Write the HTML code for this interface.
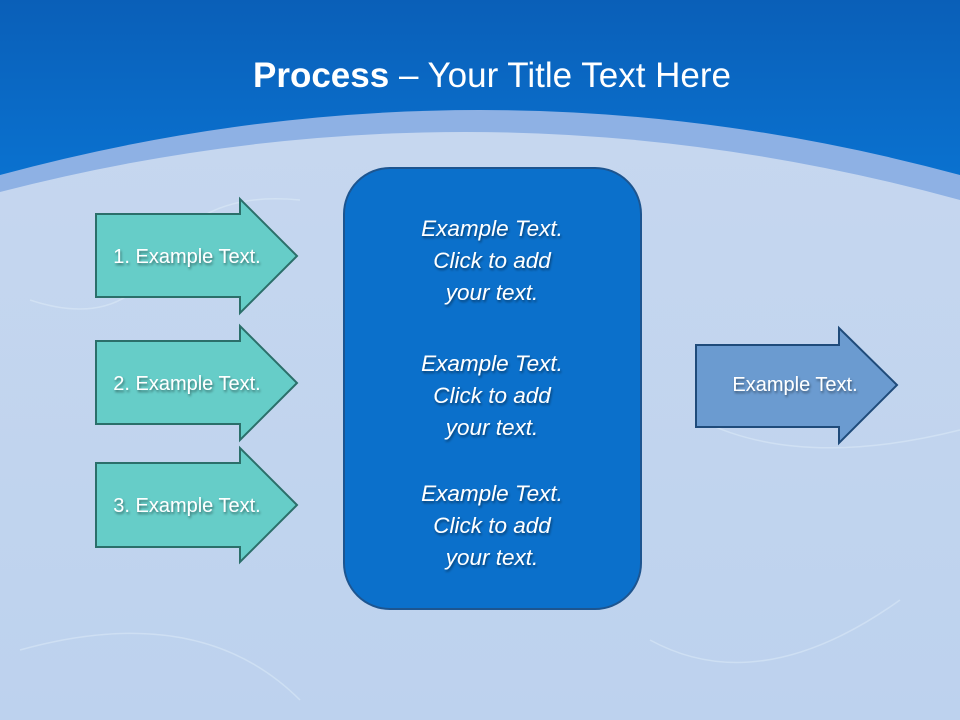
<!DOCTYPE html>
<html><head><meta charset="utf-8"><style>
html,body{margin:0;padding:0}
body{width:960px;height:720px;overflow:hidden;position:relative;font-family:"Liberation Sans",sans-serif}
svg{position:absolute;left:0;top:0}
</style></head><body>
<svg width="960" height="720" viewBox="0 0 960 720" xmlns="http://www.w3.org/2000/svg">
<defs>
<linearGradient id="top" x1="0" y1="0" x2="0" y2="1">
<stop offset="0" stop-color="#0a5fb8"/><stop offset="0.25" stop-color="#0a72d0"/><stop offset="1" stop-color="#0a7ad8"/>
</linearGradient>
<linearGradient id="low" x1="0" y1="0" x2="0" y2="1">
<stop offset="0" stop-color="#c6d7ef"/><stop offset="1" stop-color="#bdd2ee"/>
</linearGradient>
<filter id="sh"><feDropShadow dx="1" dy="2" stdDeviation="1.2" flood-color="#000" flood-opacity="0.45"/></filter>
</defs>
<rect width="960" height="720" fill="url(#top)"/>
<path d="M0,175 Q480,45 960,175 L960,720 L0,720Z" fill="#8eb1e4"/>
<path d="M0,192 Q480,68 960,200 L960,720 L0,720Z" fill="url(#low)"/>
<g fill="none" stroke="#e6f2fb" stroke-opacity="0.4" stroke-width="1.5">
<path d="M30,300 Q120,330 160,260 T300,200"/>
<path d="M20,650 Q200,600 300,700"/>
<path d="M700,420 Q800,470 960,430"/>
<path d="M650,640 Q760,700 900,600"/>
</g>
<text x="492" y="87" text-anchor="middle" font-size="35" fill="#fff" font-family="Liberation Sans, sans-serif"><tspan font-weight="bold">Process</tspan> – Your Title Text Here</text>
<g stroke="#2b6f6a" stroke-width="2" fill="#66cdc8">
<path d="M96,214 H240 V199 L297,256 L240,313 V297 H96Z"/>
<path d="M96,341 H240 V326 L297,383 L240,440 V424 H96Z"/>
<path d="M96,463 H240 V448 L297,505 L240,562 V547 H96Z"/>
</g>
<path d="M696,345 H839 V328 L897,385 L839,443 V427 H696Z" fill="#6b9bd0" stroke="#1f4b7a" stroke-width="2"/>
<rect x="344" y="168" width="297" height="441" rx="46" fill="#0b70cb" stroke="#1d5590" stroke-width="2"/>
<g fill="#fff" font-size="20" filter="url(#sh)" text-anchor="middle">
<text x="187" y="263">1. Example Text.</text>
<text x="187" y="390">2. Example Text.</text>
<text x="187" y="512">3. Example Text.</text>
<text x="795" y="391">Example Text.</text>
</g>
<g fill="#fff" font-size="22.5" font-style="italic" filter="url(#sh)" text-anchor="middle">
<text x="492" y="236">Example Text.</text>
<text x="492" y="268">Click  to add</text>
<text x="492" y="300">your text.</text>
<text x="492" y="371">Example Text.</text>
<text x="492" y="403">Click  to add</text>
<text x="492" y="435">your text.</text>
<text x="492" y="501">Example Text.</text>
<text x="492" y="533">Click  to add</text>
<text x="492" y="565">your text.</text>
</g>
</svg>
</body></html>
